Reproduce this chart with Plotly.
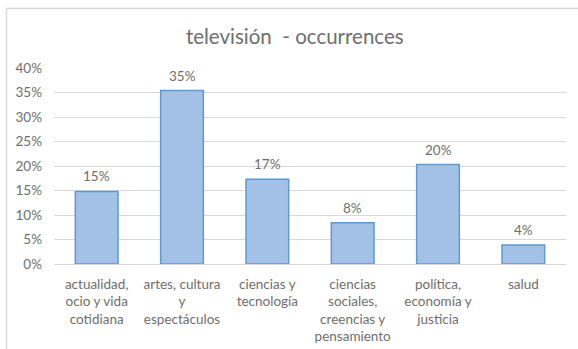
import plotly.graph_objects as go

# Share of occurrences per topic on television
categories = [
    "actualidad,<br>ocio y vida<br>cotidiana",
    "artes, cultura<br>y<br>espectáculos",
    "ciencias y<br>tecnología",
    "ciencias<br>sociales,<br>creencias y<br>pensamiento",
    "política,<br>economía y<br>justicia",
    "salud",
]
shares = [0.148, 0.354, 0.173, 0.084, 0.203, 0.039]
y_ticks = [0, 0.05, 0.10, 0.15, 0.20, 0.25, 0.30, 0.35, 0.40]

TEXT = "#6e6e6e"
FONT = "Lato, 'Open Sans', sans-serif"

fig = go.Figure(
    go.Bar(
        x=categories,
        y=shares,
        width=0.5,
        marker=dict(color="#a3c1e7", line=dict(color="#5b9bd5", width=1.5)),
    )
)

# value labels sitting above each bar
for cat, v in zip(categories, shares):
    fig.add_annotation(
        x=cat,
        y=v,
        text=f"{v:.0%}",
        showarrow=False,
        yanchor="middle",
        yshift=15,
        font=dict(color=TEXT, size=13.5, family=FONT),
    )

fig.update_layout(
    width=578,
    height=349,
    margin=dict(l=54, r=12, t=68, b=85),
    paper_bgcolor="white",
    plot_bgcolor="white",
    showlegend=False,
    font=dict(family=FONT, color=TEXT, size=13),
    title=dict(
        text="televisión  - occurrences",
        x=0.51,
        xanchor="center",
        y=0.895,
        yanchor="middle",
        font=dict(size=20.5, color=TEXT, family=FONT),
    ),
    xaxis=dict(
        showgrid=False,
        showline=False,
        ticks="",
        tickangle=0,
        automargin=False,
        ticklabelstandoff=10,
        tickfont=dict(size=13.5, color=TEXT),
    ),
    yaxis=dict(
        range=[0, 0.4],
        tickvals=y_ticks,
        tickformat=".0%",
        showgrid=True,
        gridcolor="#d9d9d9",
        gridwidth=1,
        zeroline=True,
        zerolinecolor="#d9d9d9",
        zerolinewidth=1,
        showline=False,
        ticks="",
        automargin=False,
        ticklabelstandoff=11,
        tickfont=dict(size=13.5, color=TEXT),
    ),
    shapes=[
        dict(
            type="rect",
            xref="paper",
            yref="paper",
            x0=-54 / 512 + 6.5 / 512,
            x1=1 + 40 / 512,
            y0=-90 / 196,
            y1=1 + (68 - 8.5) / 196,
            line=dict(color="#d9d9d9", width=1.5),
            fillcolor="rgba(0,0,0,0)",
            layer="below",
        )
    ],
)

fig.write_html("out.html")
